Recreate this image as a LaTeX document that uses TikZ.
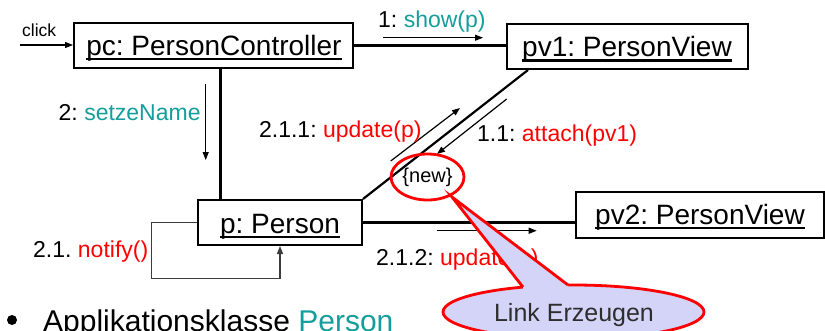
\documentclass[tikz,border=0pt]{standalone}
\usepackage{fontspec}
\setmainfont{Liberation Sans}
\usetikzlibrary{arrows.meta,shapes.geometric,calc}
\definecolor{msgteal}{RGB}{20,158,155}
\definecolor{msgred}{RGB}{255,0,0}
\definecolor{noteblue}{RGB}{212,212,248}
\definecolor{notetext}{RGB}{45,45,45}
\definecolor{selfgray}{RGB}{60,60,60}
\frenchspacing
\begin{document}
\begin{tikzpicture}[x=1pt,y=-1pt,
  objbox/.style={draw, line width=2pt, rectangle, inner sep=0pt},
  objtext/.style={font=\fontsize{28}{32}\selectfont, anchor=base, inner sep=0pt},
  uline/.style={line width=2.2pt},
  msg/.style={font=\fontsize{23}{27}\selectfont, anchor=base west, inner sep=0pt},
  link/.style={line width=2.2pt},
  msgarrow/.style={line width=1.2pt, -{Triangle[length=8pt,width=6pt]}},
  selfloop/.style={line width=1.5pt, draw=selfgray, -{Triangle[length=8pt,width=6pt]}},
  ring/.style={ellipse, draw=msgred, line width=2.8pt, inner sep=0pt},
]
\useasboundingbox (0,0) rectangle (825,330);

% objects
\node[objbox, minimum width=279pt, minimum height=45pt] (pc)  at (213.5,45.5) {};
\node[objbox, minimum width=241pt, minimum height=45pt] (pv1) at (627.5,46.5) {};
\node[objbox, minimum width=164pt, minimum height=45pt] (p)   at (280,222.5) {};
\node[objbox, minimum width=248pt, minimum height=46pt] (pv2) at (700,215) {};

\node[objtext] (pct)  at (214,55)    {pc: PersonController};
\node[objtext] (pv1t) at (627,56.5)  {pv1: PersonView};
\node[objtext] (pt)   at (280,233.3) {p: Person};
\node[objtext] (pv2t) at (700,224)   {pv2: PersonView};
\foreach \t in {pct,pv1t,pt,pv2t}
  \draw[uline] ([yshift=-4pt]\t.base west) -- ([yshift=-4pt]\t.base east);

% links
\coordinate (clk) at (20,45);
\draw[line width=1.2pt, -{Triangle[length=8pt,width=6pt]}] (clk) -- (clk -| pc.west);
\draw[link] (pc.east) -- (pc.east -| pv1.west);
\draw[link] ([xshift=7pt]pc.south) -- ([xshift=7pt]pc.south |- p.north);
\draw[link] ([xshift=22pt]pv1.south west) -- (p.north east);
\draw[link] (p.east) -- (p.east -| pv2.west);

% self call on p
\coordinate (loopbl) at (151.7,278.3);
\draw[selfloop] (p.west) -- (p.west -| loopbl) -- (loopbl) -- (loopbl -| p.south) -- (p.south);

% message arrows
\coordinate (s1a) at (383,37.7);   \coordinate (s1b) at (483,37.7);
\coordinate (s2a) at (205.7,84);   \coordinate (s2b) at (205.7,160);
\coordinate (u1a) at (390.7,161);  \coordinate (u1b) at (460,108);
\coordinate (a1a) at (506.7,99);   \coordinate (a1b) at (437,154);
\coordinate (u2a) at (436.7,230.7); \coordinate (u2b) at (536.7,230.7);
\draw[msgarrow] (s1a) -- (s1b);
\draw[msgarrow] (s2a) -- (s2b);
\draw[msgarrow] (u1a) -- (u1b);
\draw[msgarrow] (a1a) -- (a1b);
\draw[msgarrow] (u2a) -- (u2b);

% message labels
\node[anchor=base west, inner sep=0pt, font=\fontsize{17.5}{20}\selectfont] (clkl) at (22,36.7) {click};
\node[msg] (l1)   at (378,27.3)  {1: \textcolor{msgteal}{show(p)}};
\node[msg] (l2)   at (58.5,120)  {2: \textcolor{msgteal}{setzeName}};
\node[msg, anchor=base east] (l211) at (421.7,137) {2.1.1: \textcolor{msgred}{update(p)}};
\node[msg] (l11)  at (477,141.5) {1.1: \textcolor{msgred}{attach(pv1)}};
\node[msg] (l212) at (376,265)   {2.1.2: \textcolor{msgred}{update(p)}};
\node[msg] (l21)  at (33,257.3)  {2.1. \textcolor{msgred}{notify()}};

% {new} constraint
\node[ring, minimum width=73pt, minimum height=46pt, font=\fontsize{20}{24}\selectfont] (newc) at (427.5,177) {\{new\}};

% note callout
\node[ellipse, fill=noteblue, draw=msgred, line width=2.8pt, minimum width=261pt, minimum height=54pt, inner sep=0pt] (note) at (573.5,312) {};
\coordinate (tip) at (452,197);
\coordinate (bl) at (523,287.1);
\coordinate (br) at (568,285);
\fill[noteblue] (tip) -- (bl) -- (523,296) -- (568,296) -- (br) -- cycle;
\draw[msgred, line width=2.8pt, line join=miter] (bl) -- (tip) -- (br);
\node[anchor=base, inner sep=0pt, text=notetext, font=\fontsize{25}{29}\selectfont] (notet) at (574,321.7) {Link Erzeugen};

% bullet line
\fill (12,320) circle (5pt);
\node[anchor=base west, inner sep=0pt, font=\fontsize{30}{34}\selectfont] (bul) at (43,331) {Applikationsklasse \textcolor{msgteal}{Person}};
\end{tikzpicture}
\end{document}
